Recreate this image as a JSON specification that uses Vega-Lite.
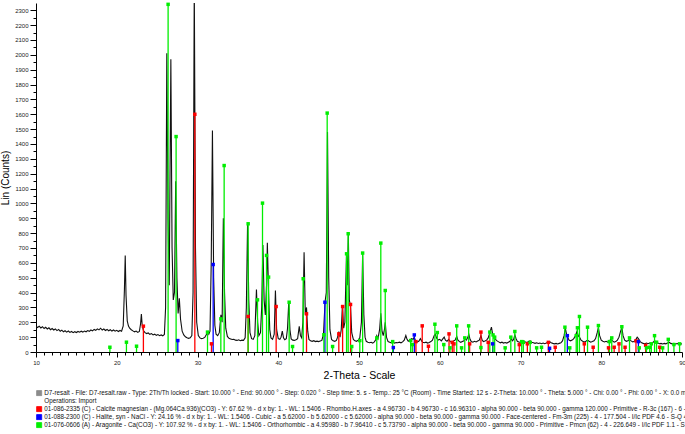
{
"$schema": "https://vega.github.io/schema/vega-lite/v6.json",
"width": 646, "height": 349,
"autosize": {"type": "none"},
"padding": {"left": 36, "top": 3, "right": 3, "bottom": 82},
"background": "white",
"config": {"view": {"stroke": null}, "font": "Liberation Sans"},
"datasets": {
"scan": [
{"t":10.0,"c":172},{"t":10.2,"c":165},{"t":10.4,"c":174},{"t":10.6,"c":162},{"t":10.8,"c":170},{"t":11.0,"c":158},{"t":11.2,"c":166},{"t":11.4,"c":155},{"t":11.6,"c":163},{"t":11.8,"c":150},
{"t":12.0,"c":158},{"t":12.2,"c":148},{"t":12.4,"c":155},{"t":12.6,"c":144},{"t":12.8,"c":152},{"t":13.0,"c":140},{"t":13.2,"c":147},{"t":13.4,"c":136},{"t":13.6,"c":143},{"t":13.8,"c":134},
{"t":14.0,"c":141},{"t":14.2,"c":132},{"t":14.4,"c":138},{"t":14.6,"c":130},{"t":14.8,"c":137},{"t":15.0,"c":131},{"t":15.2,"c":138},{"t":15.4,"c":133},{"t":15.6,"c":140},{"t":15.8,"c":134},
{"t":16.0,"c":141},{"t":16.2,"c":136},{"t":16.4,"c":144},{"t":16.6,"c":139},{"t":16.8,"c":148},{"t":17.0,"c":142},{"t":17.2,"c":152},{"t":17.4,"c":146},{"t":17.6,"c":156},{"t":17.8,"c":149},
{"t":18.0,"c":160},{"t":18.2,"c":148},{"t":18.4,"c":155},{"t":18.6,"c":145},{"t":18.8,"c":152},{"t":19.0,"c":143},{"t":19.2,"c":150},{"t":19.4,"c":141},{"t":19.6,"c":148},{"t":19.8,"c":140},
{"t":20.0,"c":146},{"t":20.2,"c":138},{"t":20.4,"c":145},{"t":20.6,"c":140},{"t":20.8,"c":175},{"t":20.95,"c":420},{"t":21.05,"c":650},{"t":21.15,"c":380},{"t":21.3,"c":210},{"t":21.45,"c":175},
{"t":21.6,"c":160},{"t":21.8,"c":150},{"t":22.0,"c":142},{"t":22.2,"c":136},{"t":22.4,"c":141},{"t":22.6,"c":132},{"t":22.8,"c":138},{"t":22.95,"c":190},{"t":23.05,"c":255},{"t":23.15,"c":180},
{"t":23.3,"c":145},{"t":23.5,"c":130},{"t":23.7,"c":124},{"t":23.9,"c":128},{"t":24.1,"c":119},{"t":24.3,"c":124},{"t":24.5,"c":115},{"t":24.7,"c":120},{"t":24.9,"c":112},{"t":25.1,"c":117},
{"t":25.3,"c":110},{"t":25.5,"c":115},{"t":25.7,"c":109},{"t":25.9,"c":118},{"t":26.05,"c":300},{"t":26.2,"c":2010},{"t":26.35,"c":900},{"t":26.5,"c":450},{"t":26.7,"c":1970},{"t":26.85,"c":700},
{"t":27.0,"c":350},{"t":27.15,"c":400},{"t":27.3,"c":1150},{"t":27.45,"c":500},{"t":27.6,"c":260},{"t":27.75,"c":362},{"t":27.9,"c":220},{"t":28.1,"c":140},{"t":28.3,"c":115},{"t":28.5,"c":102},
{"t":28.7,"c":96},{"t":28.9,"c":92},{"t":29.1,"c":95},{"t":29.3,"c":110},{"t":29.45,"c":400},{"t":29.6,"c":2500},{"t":29.75,"c":700},{"t":29.9,"c":200},{"t":30.1,"c":110},{"t":30.3,"c":95},
{"t":30.5,"c":90},{"t":30.7,"c":93},{"t":30.9,"c":98},{"t":31.1,"c":118},{"t":31.25,"c":135},{"t":31.4,"c":120},{"t":31.55,"c":140},{"t":31.7,"c":600},{"t":31.85,"c":1490},{"t":32.0,"c":500},
{"t":32.15,"c":180},{"t":32.3,"c":120},{"t":32.5,"c":110},{"t":32.7,"c":130},{"t":32.9,"c":250},{"t":33.05,"c":200},{"t":33.2,"c":900},{"t":33.35,"c":400},{"t":33.5,"c":160},{"t":33.7,"c":105},
{"t":33.9,"c":92},{"t":34.1,"c":88},{"t":34.3,"c":84},{"t":34.5,"c":86},{"t":34.7,"c":80},{"t":34.9,"c":78},{"t":35.1,"c":82},{"t":35.3,"c":76},{"t":35.5,"c":80},{"t":35.7,"c":78},
{"t":35.9,"c":95},{"t":36.05,"c":300},{"t":36.2,"c":865},{"t":36.35,"c":350},{"t":36.5,"c":130},{"t":36.7,"c":90},{"t":36.9,"c":85},{"t":37.1,"c":110},{"t":37.3,"c":420},{"t":37.45,"c":200},
{"t":37.6,"c":110},{"t":37.8,"c":130},{"t":37.95,"c":300},{"t":38.1,"c":720},{"t":38.25,"c":350},{"t":38.4,"c":250},{"t":38.55,"c":450},{"t":38.65,"c":735},{"t":38.8,"c":400},{"t":38.95,"c":150},
{"t":39.1,"c":95},{"t":39.3,"c":85},{"t":39.5,"c":120},{"t":39.65,"c":414},{"t":39.8,"c":150},{"t":40.0,"c":90},{"t":40.2,"c":85},{"t":40.35,"c":100},{"t":40.5,"c":140},{"t":40.65,"c":95},
{"t":40.8,"c":82},{"t":41.0,"c":90},{"t":41.15,"c":160},{"t":41.3,"c":335},{"t":41.45,"c":150},{"t":41.6,"c":88},{"t":41.8,"c":80},{"t":42.0,"c":78},{"t":42.2,"c":82},{"t":42.4,"c":90},
{"t":42.6,"c":172},{"t":42.75,"c":110},{"t":42.9,"c":95},{"t":43.05,"c":200},{"t":43.2,"c":672},{"t":43.35,"c":250},{"t":43.5,"c":300},{"t":43.65,"c":140},{"t":43.8,"c":85},{"t":44.0,"c":75},
{"t":44.2,"c":72},{"t":44.4,"c":76},{"t":44.6,"c":70},{"t":44.8,"c":73},{"t":45.0,"c":70},{"t":45.2,"c":74},{"t":45.4,"c":78},{"t":45.6,"c":120},{"t":45.8,"c":340},{"t":45.95,"c":400},
{"t":46.1,"c":1480},{"t":46.25,"c":500},{"t":46.4,"c":150},{"t":46.6,"c":85},{"t":46.8,"c":75},{"t":47.0,"c":72},{"t":47.2,"c":78},{"t":47.35,"c":100},{"t":47.5,"c":138},{"t":47.65,"c":100},
{"t":47.8,"c":150},{"t":47.95,"c":313},{"t":48.1,"c":160},{"t":48.25,"c":200},{"t":48.45,"c":655},{"t":48.55,"c":450},{"t":48.68,"c":790},{"t":48.8,"c":350},{"t":48.95,"c":310},{"t":49.1,"c":130},
{"t":49.3,"c":85},{"t":49.5,"c":75},{"t":49.7,"c":72},{"t":49.9,"c":80},{"t":50.1,"c":95},{"t":50.3,"c":200},{"t":50.45,"c":660},{"t":50.6,"c":250},{"t":50.75,"c":100},{"t":50.9,"c":72},
{"t":51.1,"c":66},{"t":51.3,"c":62},{"t":51.5,"c":65},{"t":51.7,"c":60},{"t":51.9,"c":68},{"t":52.05,"c":80},{"t":52.2,"c":110},{"t":52.35,"c":90},{"t":52.55,"c":150},{"t":52.7,"c":260},
{"t":52.85,"c":140},{"t":53.0,"c":110},{"t":53.15,"c":150},{"t":53.25,"c":200},{"t":53.4,"c":100},{"t":53.6,"c":70},{"t":53.8,"c":66},{"t":54.0,"c":62},{"t":54.2,"c":68},{"t":54.4,"c":60},
{"t":54.6,"c":64},{"t":54.8,"c":62},{"t":55.0,"c":66},{"t":55.2,"c":62},{"t":55.4,"c":68},{"t":55.6,"c":80},{"t":55.8,"c":111},{"t":55.95,"c":85},{"t":56.1,"c":72},{"t":56.3,"c":80},
{"t":56.5,"c":90},{"t":56.7,"c":85},{"t":56.85,"c":100},{"t":57.0,"c":75},{"t":57.2,"c":68},{"t":57.4,"c":72},{"t":57.6,"c":90},{"t":57.75,"c":75},{"t":57.9,"c":65},{"t":58.1,"c":62},
{"t":58.3,"c":66},{"t":58.5,"c":60},{"t":58.7,"c":64},{"t":58.9,"c":70},{"t":59.1,"c":80},{"t":59.3,"c":110},{"t":59.45,"c":120},{"t":59.6,"c":95},{"t":59.8,"c":80},{"t":60.0,"c":85},
{"t":60.2,"c":75},{"t":60.4,"c":90},{"t":60.55,"c":100},{"t":60.7,"c":80},{"t":60.9,"c":72},{"t":61.1,"c":85},{"t":61.3,"c":70},{"t":61.5,"c":66},{"t":61.7,"c":74},{"t":61.9,"c":80},
{"t":62.1,"c":105},{"t":62.25,"c":80},{"t":62.45,"c":70},{"t":62.6,"c":65},{"t":62.8,"c":70},{"t":63.0,"c":75},{"t":63.15,"c":90},{"t":63.3,"c":80},{"t":63.45,"c":95},{"t":63.6,"c":120},
{"t":63.75,"c":85},{"t":63.9,"c":70},{"t":64.1,"c":66},{"t":64.3,"c":72},{"t":64.5,"c":68},{"t":64.7,"c":74},{"t":64.9,"c":80},{"t":65.1,"c":110},{"t":65.25,"c":80},{"t":65.4,"c":70},
{"t":65.6,"c":74},{"t":65.8,"c":80},{"t":66.0,"c":95},{"t":66.2,"c":130},{"t":66.4,"c":167},{"t":66.55,"c":120},{"t":66.7,"c":100},{"t":66.9,"c":85},{"t":67.1,"c":75},{"t":67.3,"c":68},
{"t":67.5,"c":62},{"t":67.7,"c":66},{"t":67.9,"c":60},{"t":68.1,"c":64},{"t":68.3,"c":60},{"t":68.5,"c":66},{"t":68.7,"c":72},{"t":68.85,"c":90},{"t":69.0,"c":75},{"t":69.15,"c":85},
{"t":69.3,"c":115},{"t":69.45,"c":90},{"t":69.6,"c":72},{"t":69.8,"c":68},{"t":70.0,"c":64},{"t":70.2,"c":70},{"t":70.4,"c":75},{"t":70.6,"c":68},{"t":70.8,"c":64},{"t":71.0,"c":70},
{"t":71.2,"c":75},{"t":71.4,"c":66},{"t":71.6,"c":62},{"t":71.8,"c":58},{"t":72.0,"c":62},{"t":72.2,"c":57},{"t":72.4,"c":60},{"t":72.6,"c":56},{"t":72.8,"c":60},{"t":73.0,"c":56},
{"t":73.2,"c":60},{"t":73.4,"c":65},{"t":73.6,"c":70},{"t":73.8,"c":62},{"t":74.0,"c":58},{"t":74.2,"c":55},{"t":74.4,"c":58},{"t":74.6,"c":54},{"t":74.8,"c":58},{"t":75.0,"c":62},
{"t":75.2,"c":75},{"t":75.4,"c":110},{"t":75.55,"c":160},{"t":75.7,"c":120},{"t":75.85,"c":100},{"t":76.0,"c":80},{"t":76.2,"c":75},{"t":76.4,"c":80},{"t":76.6,"c":90},{"t":76.8,"c":110},
{"t":77.0,"c":140},{"t":77.15,"c":110},{"t":77.3,"c":100},{"t":77.5,"c":80},{"t":77.7,"c":72},{"t":77.9,"c":68},{"t":78.1,"c":72},{"t":78.3,"c":80},{"t":78.5,"c":72},{"t":78.7,"c":66},
{"t":78.9,"c":70},{"t":79.1,"c":75},{"t":79.3,"c":90},{"t":79.5,"c":130},{"t":79.65,"c":165},{"t":79.8,"c":110},{"t":80.0,"c":80},{"t":80.2,"c":72},{"t":80.4,"c":68},{"t":80.6,"c":72},
{"t":80.8,"c":66},{"t":81.0,"c":75},{"t":81.2,"c":85},{"t":81.4,"c":75},{"t":81.6,"c":66},{"t":81.8,"c":70},{"t":82.0,"c":80},{"t":82.2,"c":100},{"t":82.4,"c":140},{"t":82.55,"c":165},
{"t":82.7,"c":110},{"t":82.9,"c":80},{"t":83.1,"c":72},{"t":83.3,"c":76},{"t":83.5,"c":85},{"t":83.7,"c":75},{"t":83.9,"c":68},{"t":84.1,"c":72},{"t":84.3,"c":85},{"t":84.45,"c":100},
{"t":84.6,"c":90},{"t":84.8,"c":72},{"t":85.0,"c":62},{"t":85.2,"c":58},{"t":85.4,"c":55},{"t":85.6,"c":60},{"t":85.8,"c":56},{"t":86.0,"c":60},{"t":86.2,"c":58},{"t":86.4,"c":64},
{"t":86.6,"c":75},{"t":86.8,"c":68},{"t":87.0,"c":60},{"t":87.2,"c":56},{"t":87.4,"c":58},{"t":87.6,"c":54},{"t":87.8,"c":58},{"t":88.0,"c":55},{"t":88.2,"c":60},{"t":88.4,"c":66},
{"t":88.6,"c":58},{"t":88.8,"c":55},{"t":89.0,"c":58},{"t":89.2,"c":54},{"t":89.4,"c":57},{"t":89.6,"c":53},{"t":89.8,"c":56},{"t":90.0,"c":54}
],
"sticks": [
{"t":23.3,"c":174,"p":"C"},{"t":29.67,"c":1600,"p":"C"},{"t":31.73,"c":55,"p":"C"},{"t":36.27,"c":239,"p":"C"},{"t":39.74,"c":306,"p":"C"},{"t":43.5,"c":257,"p":"C"},{"t":47.5,"c":122,"p":"C"},{"t":47.97,"c":306,"p":"C"},{"t":48.95,"c":320,"p":"C"},
{"t":57.05,"c":70,"p":"C"},{"t":57.83,"c":176,"p":"C"},{"t":58.6,"c":39,"p":"C"},{"t":61.15,"c":122,"p":"C"},{"t":61.55,"c":65,"p":"C"},{"t":61.76,"c":55,"p":"C"},{"t":63.7,"c":55,"p":"C"},{"t":65.1,"c":134,"p":"C"},{"t":66.0,"c":65,"p":"C"},
{"t":69.85,"c":50,"p":"C"},{"t":70.85,"c":55,"p":"C"},{"t":73.45,"c":65,"p":"C"},{"t":74.3,"c":32,"p":"C"},{"t":77.9,"c":55,"p":"C"},{"t":79.0,"c":32,"p":"C"},{"t":80.9,"c":28,"p":"C"},{"t":81.6,"c":32,"p":"C"},{"t":82.2,"c":55,"p":"C"},{"t":82.95,"c":32,"p":"C"},{"t":84.3,"c":75,"p":"C"},{"t":85.5,"c":45,"p":"C"},{"t":87.25,"c":32,"p":"C"},
{"t":27.56,"c":77,"p":"H"},{"t":31.94,"c":589,"p":"H"},{"t":45.78,"c":335,"p":"H"},{"t":54.25,"c":30,"p":"H"},{"t":56.85,"c":115,"p":"H"},{"t":66.55,"c":55,"p":"H"},{"t":73.6,"c":25,"p":"H"},{"t":75.8,"c":110,"p":"H"},{"t":84.6,"c":70,"p":"H"},
{"t":19.15,"c":32,"p":"A"},{"t":21.2,"c":66,"p":"A"},{"t":22.45,"c":39,"p":"A"},{"t":26.36,"c":2340,"p":"A"},{"t":27.35,"c":1450,"p":"A"},{"t":31.24,"c":134,"p":"A"},{"t":32.89,"c":223,"p":"A"},{"t":33.3,"c":1255,"p":"A"},{"t":36.27,"c":863,"p":"A"},
{"t":37.43,"c":351,"p":"A"},{"t":38.05,"c":1002,"p":"A"},{"t":38.55,"c":650,"p":"A"},{"t":38.8,"c":504,"p":"A"},{"t":41.35,"c":335,"p":"A"},{"t":41.77,"c":37,"p":"A"},{"t":43.09,"c":493,"p":"A"},{"t":45.65,"c":116,"p":"A"},{"t":46.06,"c":1608,"p":"A"},
{"t":46.73,"c":37,"p":"A"},{"t":48.46,"c":661,"p":"A"},{"t":48.66,"c":796,"p":"A"},{"t":49.1,"c":37,"p":"A"},{"t":50.1,"c":77,"p":"A"},{"t":50.45,"c":666,"p":"A"},{"t":52.2,"c":95,"p":"A"},{"t":52.7,"c":733,"p":"A"},{"t":53.25,"c":414,"p":"A"},
{"t":54.17,"c":70,"p":"A"},{"t":56.4,"c":77,"p":"A"},{"t":56.6,"c":50,"p":"A"},{"t":59.4,"c":187,"p":"A"},{"t":59.7,"c":131,"p":"A"},{"t":60.5,"c":50,"p":"A"},{"t":61.27,"c":28,"p":"A"},{"t":62.1,"c":176,"p":"A"},{"t":62.7,"c":28,"p":"A"},
{"t":63.1,"c":95,"p":"A"},{"t":63.58,"c":176,"p":"A"},{"t":65.1,"c":30,"p":"A"},{"t":66.2,"c":134,"p":"A"},{"t":66.6,"c":115,"p":"A"},{"t":66.8,"c":100,"p":"A"},{"t":68.1,"c":28,"p":"A"},{"t":68.8,"c":100,"p":"A"},{"t":69.3,"c":138,"p":"A"},
{"t":70.15,"c":70,"p":"A"},{"t":70.35,"c":65,"p":"A"},{"t":71.2,"c":65,"p":"A"},{"t":72.0,"c":28,"p":"A"},{"t":72.6,"c":32,"p":"A"},{"t":75.5,"c":167,"p":"A"},{"t":76.1,"c":28,"p":"A"},{"t":76.9,"c":110,"p":"A"},{"t":77.05,"c":163,"p":"A"},
{"t":77.3,"c":239,"p":"A"},{"t":78.3,"c":167,"p":"A"},{"t":79.65,"c":178,"p":"A"},{"t":81.0,"c":70,"p":"A"},{"t":81.3,"c":95,"p":"A"},{"t":82.55,"c":170,"p":"A"},{"t":83.5,"c":95,"p":"A"},{"t":84.7,"c":28,"p":"A"},{"t":85.6,"c":28,"p":"A"},
{"t":86.0,"c":32,"p":"A"},{"t":86.2,"c":55,"p":"A"},{"t":86.6,"c":110,"p":"A"},{"t":86.85,"c":66,"p":"A"},{"t":87.6,"c":28,"p":"A"},{"t":88.3,"c":85,"p":"A"},{"t":89.0,"c":50,"p":"A"},{"t":89.7,"c":55,"p":"A"}
]
},
"encoding": {
  "x": {"field": "t", "type": "quantitative", "title": "2-Theta - Scale",
   "scale": {"domain": [10, 90], "nice": false, "zero": false},
   "axis": {"values": [10,11,12,13,14,15,16,17,18,19,20,21,22,23,24,25,26,27,28,29,30,31,32,33,34,35,36,37,38,39,40,41,42,43,44,45,46,47,48,49,50,51,52,53,54,55,56,57,58,59,60,61,62,63,64,65,66,67,68,69,70,71,72,73,74,75,76,77,78,79,80,81,82,83,84,85,86,87,88,89,90],
    "format": "d", "labelExpr": "datum.value % 10 === 0 ? datum.label : ''",
    "tickSize": {"condition": {"test": "datum.value % 10 === 0", "value": 5}, "value": 3},
    "labelFontSize": 6, "labelPadding": 2, "labelColor": "#222", "labelFlush": false, "labelOverlap": false,
    "domainColor": "#000", "tickColor": "#000", "grid": false,
    "titleFontSize": 10.5, "titleFontWeight": "normal", "titleColor": "#000", "titlePadding": 5}},
  "y": {"field": "c", "type": "quantitative", "title": "Lin (Counts)",
   "scale": {"domain": [0, 2349], "nice": false},
   "axis": {"values": [0,50,100,150,200,250,300,350,400,450,500,550,600,650,700,750,800,850,900,950,1000,1050,1100,1150,1200,1250,1300,1350,1400,1450,1500,1550,1600,1650,1700,1750,1800,1850,1900,1950,2000,2050,2100,2150,2200,2250,2300],
    "format": "d", "labelExpr": "datum.value % 100 === 0 ? datum.label : ''",
    "tickSize": {"condition": {"test": "datum.value % 100 === 0", "value": 6}, "value": 3},
    "labelFontSize": 6, "labelPadding": 2, "labelColor": "#222", "labelOverlap": false, "labelFlush": false,
    "domainColor": "#000", "tickColor": "#000", "grid": false,
    "titleFontSize": 10, "titleFontWeight": "normal", "titleColor": "#000", "titlePadding": 4}}
},
"layer": [
{"data": {"name": "scan"},
 "mark": {"type": "line", "color": "#111111", "strokeWidth": 1.1, "clip": true, "interpolate": "linear"}},
{"data": {"name": "sticks"},
 "mark": {"type": "rule", "strokeWidth": 1.3},
 "encoding": {
  "y2": {"datum": 0},
  "color": {"field": "p", "type": "nominal",
   "scale": {"domain": ["D", "O", "C", "H", "A"], "range": ["#8c8c8c", "#ffffff", "#ff0000", "#0000ff", "#00ee00"]},
   "legend": {"orient": "bottom", "direction": "vertical", "columns": 1, "title": null, "offset": 9,
    "labelExpr": "datum.value == 'D' ? 'D7-resalt - File: D7-resalt.raw - Type: 2Th/Th locked - Start: 10.000 ° - End: 90.000 ° - Step: 0.020 ° - Step time: 5. s - Temp.: 25 °C (Room) - Time Started: 12 s - 2-Theta: 10.000 ° - Theta: 5.000 ° - Chi: 0.00 ° - Phi: 0.00 ° - X: 0.0 mm - Y: 0.0 mm - Z: 0.0 mm' : datum.value == 'O' ? 'Operations: Import' : datum.value == 'C' ? '01-086-2335 (C) - Calcite magnesian - (Mg.064Ca.936)(CO3) - Y: 67.62 % - d x by: 1. - WL: 1.5406 - Rhombo.H.axes - a 4.96730 - b 4.96730 - c 16.96310 - alpha 90.000 - beta 90.000 - gamma 120.000 - Primitive - R-3c (167) - 6 - 366.514 - I/Ic PDF 3.2 - S-Q 33.4 %' : datum.value == 'H' ? '01-088-2300 (C) - Halite, syn - NaCl - Y: 24.16 % - d x by: 1. - WL: 1.5406 - Cubic - a 5.62000 - b 5.62000 - c 5.62000 - alpha 90.000 - beta 90.000 - gamma 90.000 - Face-centered - Fm-3m (225) - 4 - 177.504 - I/Ic PDF 4.6 - S-Q 4.7 %' : '01-076-0606 (A) - Aragonite - Ca(CO3) - Y: 107.92 % - d x by: 1. - WL: 1.5406 - Orthorhombic - a 4.95980 - b 7.96410 - c 5.73790 - alpha 90.000 - beta 90.000 - gamma 90.000 - Primitive - Pmcn (62) - 4 - 226.649 - I/Ic PDF 1.1 - S-Q 61.9 %'",
    "labelFontSize": 6.3, "labelFont": "Liberation Sans", "labelColor": "#111", "labelLimit": 3000,
    "symbolType": "square", "symbolSize": 26, "symbolStrokeWidth": 0.8, "rowPadding": 1, "clipHeight": 6.3, "labelOffset": 2,
    "encode": {"symbols": {"update": {
      "fill": {"signal": "datum.value === 'D' ? '#ffffff' : scale('color', datum.value)"},
      "stroke": {"signal": "datum.value === 'D' ? '#555555' : scale('color', datum.value)"}}}}}}
 }},
{"data": {"name": "sticks"},
 "mark": {"type": "point", "shape": "square", "filled": true, "size": 12, "opacity": 1},
 "encoding": {
  "color": {"field": "p", "type": "nominal"}
 }}
]
}
